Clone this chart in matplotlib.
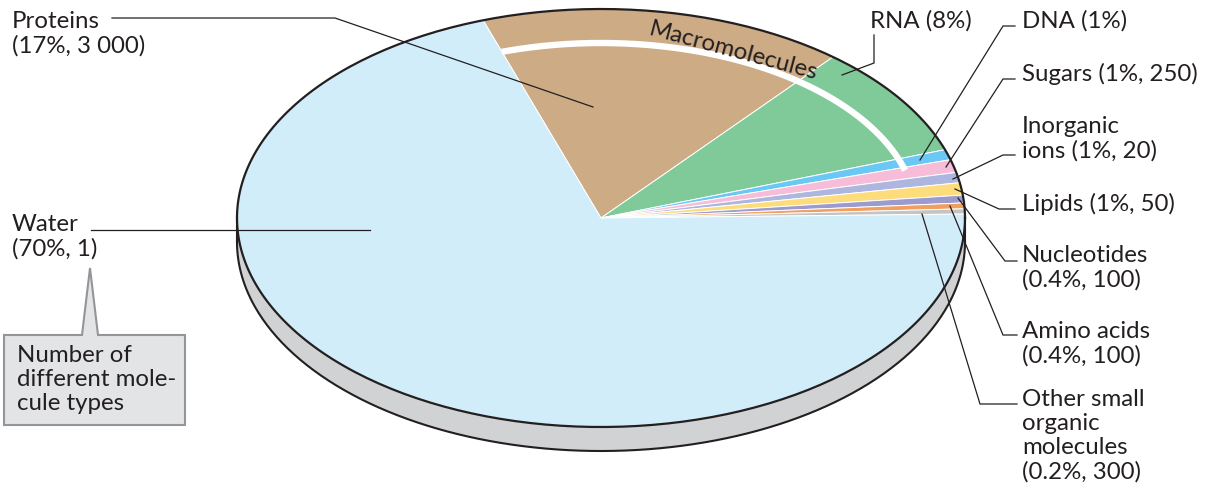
import numpy as np
import matplotlib
matplotlib.use("Agg")
import matplotlib.pyplot as plt
from matplotlib.patches import Polygon
from matplotlib.transforms import Affine2D

plt.rcParams['font.family'] = ['Lato', 'DejaVu Sans']

# shares as drawn in the picture (they differ a bit from the printed labels)
names = ["Proteins", "RNA", "DNA", "Sugars", "Inorganic ions",
         "Lipids", "Nucleotides", "Amino acids", "Other", "Water"]
shares = [16.25, 8.7, 0.8, 1.0, 0.8, 0.95, 0.6, 0.45, 0.4, 70.05]
colors = ["#cdab84", "#80c999", "#69c8f4", "#f6bcd8", "#adb6de",
          "#fddc7c", "#9c9bcf", "#ef9f5f", "#c4c4c4", "#d2edfa"]
labels = ["Proteins\n(17%, 3 000)", "Water\n(70%, 1)", "RNA (8%)", "DNA (1%)",
          "Sugars (1%, 250)", "Inorganic\nions (1%, 20)", "Lipids (1%, 50)",
          "Nucleotides\n(0.4%, 100)", "Amino acids\n(0.4%, 100)",
          "Other small\norganic\nmolecules\n(0.2%, 300)"]
label_xy = [(12, 11), (12, 214), (870, 10), (1022, 10), (1022, 63), (1022, 116),
            (1022, 193), (1022, 245), (1022, 321), (1022, 389)]
leaders = [[(112, 18), (335, 18), (593, 107)],
           [(91, 230), (370, 230)],
           [(874, 35), (874, 63), (842, 75)],
           [(1015, 26), (1003, 26), (920, 160)],
           [(1015, 79), (1003, 79), (946, 167)],
           [(1015, 155), (1003, 155), (953, 179)],
           [(1015, 209), (999, 209), (955, 189)],
           [(1017, 261), (1005, 261), (958, 198)],
           [(1017, 335), (1003, 335), (950, 206)],
           [(1017, 404), (980, 404), (922, 214)]]

cx, cy, rx, ry = 601, 218, 364, 209
depth = 24
start_angle = 108.9


def ellipse(a, b, t0, t1, dy=0):
    t = np.radians(np.linspace(t0, t1, 300))
    return cx + a * np.cos(t), cy + dy - b * np.sin(t)


fig = plt.figure(figsize=(12.11, 4.90), dpi=100)
ax = fig.add_axes([0, 0, 1, 1])

wedges, _ = ax.pie(shares, colors=colors, startangle=start_angle, counterclock=False,
                   wedgeprops=dict(edgecolor="white", linewidth=0.7))
squash = Affine2D().scale(rx, -ry).translate(cx, cy) + ax.transData
for w in wedges:
    w.set_transform(squash)
    w.set_zorder(2)

ax.set_aspect("auto")
ax.set_xlim(0, 1211)
ax.set_ylim(490, 0)
ax.axis("off")

# side wall of the disc
x, y = ellipse(rx, ry, 180, 360, dy=depth)
ax.add_patch(Polygon(np.r_[[(cx - rx, cy)], np.c_[x, y], [(cx + rx, cy)]],
                     closed=True, fc="#d0d2d3", ec="none", zorder=1))
ax.plot(x, y, color="#231f20", lw=1.5, zorder=3)
ax.plot([cx - rx, cx - rx], [cy, cy + depth], color="#231f20", lw=1.5, zorder=3)
ax.plot([cx + rx, cx + rx], [cy, cy + depth], color="#231f20", lw=1.5, zorder=3)

# rim
x, y = ellipse(rx, ry, 0, 360)
ax.plot(x, y, color="#231f20", lw=1.6, zorder=4)

# white band for the macromolecules
x, y = ellipse(316, 175, 15.8, 108.3)
ax.plot(x, y, color="white", lw=4.6, solid_capstyle="butt", zorder=3)
ax.text(733, 51, "Macromolecules", fontsize=17.25, color="#231f20", rotation=-15,
        rotation_mode="anchor", ha="center", va="center", zorder=6)

for pts in leaders:
    ax.plot(*zip(*pts), color="#231f20", lw=0.9, zorder=5, solid_joinstyle="miter")

for (lx, ly), s in zip(label_xy, labels):
    ax.text(lx, ly, s, fontsize=17.25, color="#231f20", ha="left", va="top",
            linespacing=1.18, zorder=6)

# callout box
box = [(4, 335), (82, 335), (90, 268), (98, 335), (185, 335), (185, 425), (4, 425)]
ax.add_patch(Polygon(box, closed=True, fc="#e3e4e6", ec="#939598", lw=1.5, zorder=5))
ax.text(17, 345, "Number of\ndifferent mole-\ncule types", fontsize=17.25, color="#231f20",
        ha="left", va="top", linespacing=1.18, zorder=6)

fig.savefig("out.png", dpi=100)
